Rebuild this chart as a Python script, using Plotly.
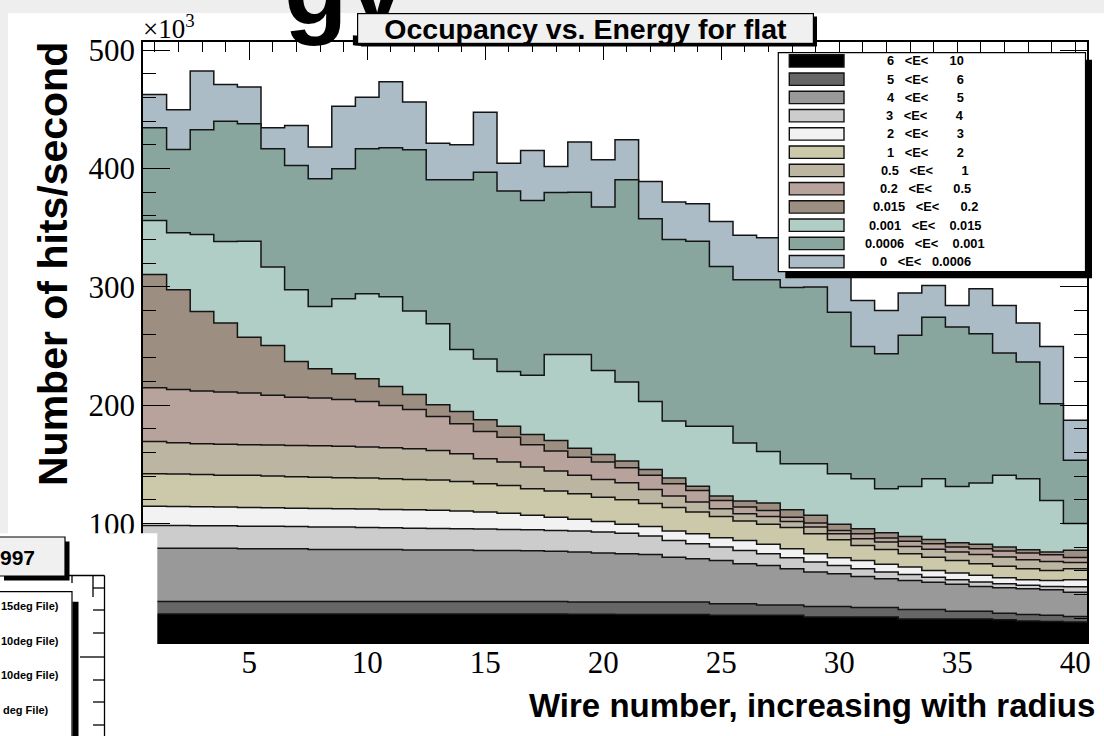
import numpy as np
import plotly.graph_objects as go

# ---------------------------------------------------------------------------
# Data: occupancy per wire, split by deposited-energy band.
# Rates are hits/second in units of 10^3, one value per wire (1..40).
# ---------------------------------------------------------------------------
wire = list(range(1, 41))

rate_6_10 = [23.7, 23.7, 23.7, 23.7, 23.7, 23.7, 23.7, 23.7, 23.7, 23.7,
             23.6, 23.6, 23.6, 23.6, 23.6, 23.6, 23.6, 23.6, 23.5, 23.5,
             23.3, 23.3, 23.3, 23.3, 22.5, 22.5, 22.5, 22.5, 21.2, 21.2,
             21.2, 21.2, 19.5, 19.5, 19.5, 19.5, 18.7, 17.8, 17.4, 17.0]

rate_5_6 = [10.6, 10.6, 10.6, 10.6, 10.6, 10.6, 10.6, 10.6, 10.6, 10.6,
            10.7, 10.7, 10.7, 10.7, 10.7, 10.7, 10.7, 10.7, 10.4, 10.4,
            10.5, 10.5, 10.5, 10.5, 9.9, 9.9, 8.8, 8.8, 8.9, 8.9,
            8.0, 8.0, 8.0, 8.0, 6.4, 6.4, 5.5, 5.5, 5.1, 4.6]

rate_4_5 = [45.0, 45.0, 45.0, 45.0, 44.5, 44.5, 44.5, 43.9, 43.9, 43.9,
            43.9, 43.4, 43.4, 43.4, 43.1, 43.1, 42.8, 42.3, 42.1, 41.2,
            40.8, 40.2, 37.9, 36.6, 36.5, 33.8, 33.4, 30.6, 29.0, 27.6,
            26.2, 24.3, 24.5, 22.9, 22.8, 21.1, 21.7, 21.7, 21.7, 20.5]

rate_3_4 = [19.2, 19.2, 19.0, 19.0, 19.1, 19.1, 18.9, 18.9, 18.9, 18.6,
            18.4, 18.5, 18.3, 18.0, 18.0, 17.7, 17.8, 17.7, 17.7, 17.8,
            17.2, 15.6, 14.1, 12.7, 11.3, 11.2, 9.9, 9.3, 8.4, 7.0,
            6.5, 5.6, 5.1, 4.4, 3.9, 3.6, 3.4, 2.9, 2.8, 4.5]

rate_2_3 = [16.3, 16.1, 16.0, 15.7, 15.8, 15.6, 15.4, 15.8, 15.5, 15.5,
            15.4, 15.6, 15.4, 14.9, 14.4, 13.6, 12.3, 11.2, 10.1, 9.0,
            7.6, 8.1, 7.9, 8.4, 7.9, 8.4, 7.9, 7.7, 7.1, 6.5,
            7.0, 6.5, 6.2, 5.7, 5.6, 5.7, 5.0, 4.7, 5.0, 5.9]

rate_1_2 = [27.4, 27.3, 27.3, 27.0, 27.1, 26.7, 26.6, 26.4, 26.2, 26.2,
            26.0, 25.6, 25.4, 25.1, 24.0, 23.6, 22.3, 22.0, 21.5, 20.5,
            20.8, 19.4, 20.0, 18.3, 18.0, 16.4, 16.9, 17.9, 16.9, 15.2,
            12.7, 12.6, 11.3, 11.2, 10.7, 9.9, 9.8, 9.3, 8.5, 9.3]

rate_05_1 = [27.3, 26.5, 26.0, 26.0, 25.9, 26.2, 26.4, 26.6, 26.7, 26.2,
             26.2, 25.9, 25.1, 23.4, 21.1, 19.7, 18.3, 16.9, 15.5, 15.0,
             14.4, 11.8, 9.6, 8.4, 6.5, 6.2, 6.7, 5.1, 5.6, 5.1,
             5.7, 6.2, 6.2, 6.6, 7.1, 7.8, 7.7, 7.6, 7.6, 5.3]

rate_02_05 = [45.4, 45.0, 44.4, 44.2, 43.6, 42.0, 40.8, 40.2, 39.5, 38.6,
              35.7, 33.2, 28.7, 25.4, 23.0, 21.1, 18.9, 16.9, 15.4, 14.6,
              12.7, 11.9, 10.5, 9.9, 7.0, 5.6, 5.1, 3.6, 3.4, 2.8,
              4.2, 3.4, 4.4, 4.8, 4.2, 4.9, 5.0, 5.6, 5.7, 4.2]

rate_0015_02 = [95.7, 84.3, 67.3, 58.3, 47.3, 42.2, 30.2, 24.8, 21.7, 19.2,
                16.1, 12.7, 9.9, 10.3, 9.8, 9.3, 8.7, 9.0, 7.6, 6.5,
                5.6, 5.0, 4.7, 3.6, 3.7, 5.1, 6.2, 6.3, 6.5, 5.1,
                4.2, 4.6, 4.0, 3.6, 3.7, 3.6, 3.4, 2.9, 2.2, 6.3]

rate_0001_0015 = [45.6, 48.1, 65.1, 69.0, 81.1, 66.2, 60.6, 52.7, 63.4, 71.8,
                  75.8, 70.4, 68.4, 52.4, 51.5, 46.2, 49.9, 72.7, 79.2, 71.0,
                  66.7, 57.5, 48.2, 50.7, 59.1, 49.0, 43.6, 38.9, 43.7, 42.8,
                  42.3, 37.1, 42.3, 51.3, 47.6, 51.8, 60.6, 60.0, 43.6, 22.5]

rate_00006_0001 = [78.4, 70.4, 88.5, 101.6, 99.2, 100.0, 105.0, 107.9, 109.8, 122.5,
                   125.9, 136.4, 121.7, 143.4, 157.8, 152.4, 147.8, 136.9, 137.1, 138.0,
                   171.0, 154.4, 153.5, 156.3, 135.0, 138.0, 145.1, 148.9, 149.2, 136.5,
                   111.8, 114.1, 127.6, 136.5, 134.6, 126.2, 103.3, 98.5, 81.8, 53.5]

rate_0_00006 = [28.1, 33.6, 49.5, 31.0, 31.0, 17.8, 33.8, 26.7, 52.9, 43.6,
                55.7, 40.2, 30.9, 29.6, 50.7, 23.6, 42.3, 22.0, 42.3, 40.0,
                33.8, 31.5, 31.5, 31.6, 38.0, 37.5, 35.5, 35.4, 28.1, 43.3,
                38.8, 36.6, 35.7, 26.8, 18.3, 38.0, 40.3, 33.0, 48.4, 33.8]

# Energy band edges (bottom of the stack first)
e_low = ["6", "5", "4", "3", "2", "1", "0.5", "0.2", "0.015", "0.001", "0.0006", "0"]
e_high = ["10", "6", "5", "4", "3", "2", "1", "0.5", "0.2", "0.015", "0.001", "0.0006"]

bands = [rate_6_10, rate_5_6, rate_4_5, rate_3_4, rate_2_3, rate_1_2,
         rate_05_1, rate_02_05, rate_0015_02, rate_0001_0015,
         rate_00006_0001, rate_0_00006]

# ---------------------------------------------------------------------------
# Styling
# ---------------------------------------------------------------------------
fill_colors = ["#000000", "#666666", "#999999", "#cccccc", "#f2f2f2", "#ccc8aa",
               "#bbb5a2", "#b7a39b", "#9d8e82", "#b0cec6", "#89a69e", "#acbcc6"]
label_gap = [6, 8, 8, 8, 8, 8, 8, 6, 6, 4, 4, 3]   # spacing before the upper edge

W, H = 1104, 736
ML, MR, MT, MB = 143, 17, 42, 94
PW, PH = W - ML - MR, H - MT - MB
X_RANGE = [0.5, 40.5]
Y_RANGE = [0, 507]


def fx(x):
    """page pixel x -> paper coordinate"""
    return (x - ML) / PW


def fy(y):
    """page pixel y (from top) -> paper coordinate"""
    return (H - MB - y) / PH


shapes = []


def rect(x0, y0, x1, y1, fill, line=None, lw=1.2, layer="above"):
    shapes.append(dict(type="rect", xref="paper", yref="paper",
                       x0=fx(x0), x1=fx(x1), y0=fy(y1), y1=fy(y0),
                       fillcolor=fill, layer=layer,
                       line=dict(color=line if line else fill, width=lw if line else 0)))


def seg(x0, y0, x1, y1, lw=1.3):
    shapes.append(dict(type="line", xref="paper", yref="paper",
                       x0=fx(x0), x1=fx(x1), y0=fy(y0), y1=fy(y1),
                       line=dict(color="black", width=lw), layer="above"))


annotations = []


def text(s, x, y, size, xanchor="center", yanchor="middle", family="Liberation Sans",
         bold=False, color="black", **kw):
    annotations.append(dict(text=f"<b>{s}</b>" if bold else s, x=fx(x), y=fy(y),
                            xref="paper", yref="paper", showarrow=False,
                            xanchor=xanchor, yanchor=yanchor,
                            font=dict(family=family, size=size, color=color), **kw))


# ---------------------------------------------------------------------------
# Stacked step histograms
# ---------------------------------------------------------------------------
fig = go.Figure()
edges = [w - 0.5 for w in wire] + [wire[-1] + 0.5]
stack = np.cumsum(np.array(bands), axis=0)

for k in reversed(range(len(bands))):
    top = list(stack[k]) + [stack[k][-1]]
    fig.add_trace(go.Scatter(
        x=edges, y=top, mode="lines",
        line=dict(shape="hv", color="#141414", width=1.5),
        fill="tozeroy", fillcolor=fill_colors[k],
        name=f"{e_low[k]} <E< {e_high[k]}", hoverinfo="skip", showlegend=False))

# ---------------------------------------------------------------------------
# Page decoration: slide background, canvas, legend, title box
# ---------------------------------------------------------------------------
rect(8, 13, W + 5, H + 5, "white", layer="below")

# legend box with drop shadow
LX0, LY0, LX1, LY1 = 778.3, 52.7, 1085.5, 271.7
rect(LX0 + 7, LY0 + 7, LX1 + 6.5, LY1 + 6.5, "black")
rect(LX0, LY0, LX1, LY1, "white", line="black", lw=1.2)
row_h = (LY1 - LY0) / 12.0
for i in range(12):
    yc = LY0 + row_h * (i + 0.45)
    rect(789.3, yc - 6.2, 844, yc + 6.2, fill_colors[i], line="#111111", lw=1.4)
    s = (e_low[i] + "\u00a0\u00a0\u00a0<E<" + "\u00a0" * label_gap[i] + e_high[i])
    text(s, 925, yc, 12.8, bold=True)

# neighbouring panel peeking in at the lower left
rect(-5, 533.3, 157.3, H + 5, "white")
seg(65, 575.5, 104.5, 575.5)
seg(104.5, 575.5, 104.5, H + 5)
seg(72, 575.5, 72, 583)
seg(93, 575.5, 93, 597)
for yt in [588, 610, 633, 680, 702, 725]:
    seg(93, yt, 104.5, yt)
seg(80, 657, 104.5, 657)
rect(72.5, 601.7, 78.5, H + 5, "black")
rect(-5, 591.7, 72, H + 5, "white", line="black", lw=1.2)
rect(4, 541.5, 69.5, 580.5, "black")
rect(-5, 537, 65, 576, "#f0f0f0", line="black", lw=1.2)
text("997", 37, 557, 21, xanchor="right", bold=True)
for s, xr, yc in [("15deg File)", 61, 606), ("10deg File)", 61, 641),
                  ("10deg File)", 61, 675), ("deg File)", 51, 710)]:
    text(s, xr, yc, 11, xanchor="right", bold=True)

# slide heading fragment, partly hidden by the plot title box
text("gy", 282, 48, 104, xanchor="left", yanchor="bottom", bold=True)

# plot title box: drop shadow, then the box with its caption on top
rect(361, 16.5, 817, 46.5, "black")
annotations.append(dict(text="<b>Occupancy vs. Energy for flat</b>",
                        x=fx(357), y=fy(12.5),
                        xref="paper", yref="paper", showarrow=False,
                        xanchor="left", yanchor="top", width=455, height=29,
                        bgcolor="#f0f0f0", bordercolor="black", borderwidth=1.2,
                        borderpad=0, align="center", valign="middle",
                        font=dict(family="Liberation Sans", size=28.5, color="black")))

# axis scale factor and titles
text("×10<sup>3</sup>", 141, 27, 27, xanchor="left", family="Liberation Serif")
text("Number of hits/second", 53, 264, 41, bold=True, textangle=-90)
text("Wire number, increasing with radius", 1097, 705, 33, xanchor="right", bold=True)

axis_common = dict(ticks="inside", tickcolor="black", tickwidth=1.3,
                   showline=True, linecolor="black", linewidth=1.5, mirror="ticks",
                   showgrid=False, zeroline=False,
                   tickfont=dict(family="Liberation Serif", size=31, color="black"))

fig.update_layout(
    width=W, height=H,
    margin=dict(l=ML, r=MR, t=MT, b=MB, pad=0),
    paper_bgcolor="#eeeeee", plot_bgcolor="white",
    xaxis=dict(range=X_RANGE, tickmode="linear", tick0=0, dtick=5, ticklen=18,
               ticklabelstandoff=-8,
               minor=dict(ticks="inside", ticklen=10, tickwidth=1.3, tickcolor="black",
                          tick0=0, dtick=1, showgrid=False),
               **axis_common),
    yaxis=dict(range=Y_RANGE, tickmode="linear", tick0=0, dtick=100, ticklen=27,
               minor=dict(ticks="inside", ticklen=13, tickwidth=1.3, tickcolor="black",
                          tick0=0, dtick=20, showgrid=False),
               **axis_common),
    shapes=shapes, annotations=annotations, showlegend=False,
)

fig.write_html("out.html")
